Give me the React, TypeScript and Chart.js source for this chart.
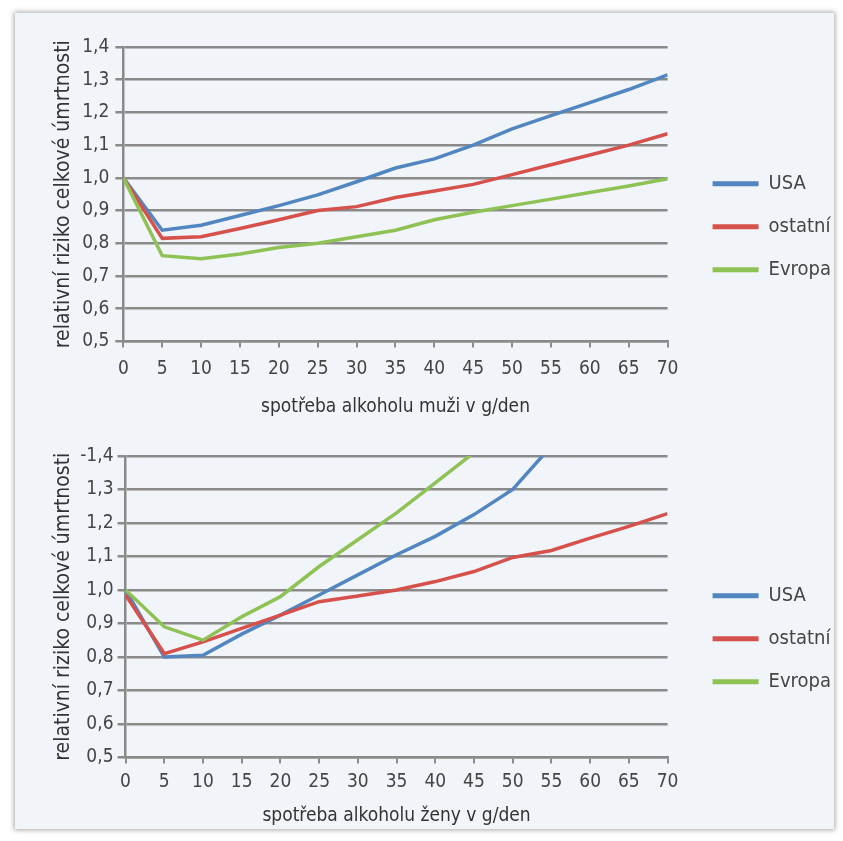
import React, { useEffect, useRef } from "react";
import { Chart, registerables } from "chart.js";

Chart.register(...registerables);

// ---- data ----
const xLabels = ["0", "5", "10", "15", "20", "25", "30", "35", "40", "45", "50", "55", "60", "65", "70"];
const yTickLabelsTop = ["0,5", "0,6", "0,7", "0,8", "0,9", "1,0", "1,1", "1,2", "1,3", "1,4"];
const yTickLabelsBottom = ["0,5", "0,6", "0,7", "0,8", "0,9", "1,0", "1,1", "1,2", "1,3", "-1,4"];

const seriesNames = ["USA", "ostatní", "Evropa"];
const seriesColors = ["#5286c0", "#d6504c", "#8ec255"];

const menUSA = [1.0, 0.84, 0.855, 0.885, 0.915, 0.948, 0.988, 1.03, 1.058, 1.1, 1.15, 1.19, 1.23, 1.27, 1.315];
const menOther = [1.0, 0.815, 0.82, 0.845, 0.872, 0.9, 0.912, 0.94, 0.96, 0.98, 1.01, 1.04, 1.07, 1.1, 1.135];
const menEurope = [1.0, 0.762, 0.753, 0.767, 0.787, 0.8, 0.82, 0.84, 0.872, 0.895, 0.915, 0.935, 0.955, 0.975, 0.997];

const womenUSA = [1.0, 0.8, 0.805, 0.868, 0.925, 0.985, 1.045, 1.105, 1.16, 1.225, 1.3, 1.43, null, null, null];
const womenOther = [0.985, 0.81, 0.845, 0.885, 0.925, 0.965, 0.982, 1.0, 1.025, 1.055, 1.097, 1.118, 1.155, 1.19, 1.228];
const womenEurope = [1.0, 0.89, 0.85, 0.92, 0.98, 1.07, 1.15, 1.23, 1.32, 1.41, null, null, null, null, null];

const yTitle = "relativní riziko celkové úmrtnosti";
const menXTitle = "spotřeba alkoholu muži v g/den";
const womenXTitle = "spotřeba alkoholu ženy v g/den";

const FONT = "'Liberation Sans Narrow', 'DejaVu Sans Condensed', 'Roboto Condensed', Roboto, sans-serif";
const GRID = "#8a8a8a";
const TEXT = "#454545";

type Layout = {
  padLeft: number;
  padTop: number;
  padRight: number;
  padBottom: number;
  yTitlePadTop: number;
  yTickPad: number;
  xTickPad: number;
  xTitlePadTop: number;
  legendShift: number;
};

function buildConfig(series: (number | null)[][], tickLabels: string[], xTitle: string, L: Layout): any {
  const datasets = series.map((values, i) => ({
    label: seriesNames[i],
    data: values,
    borderColor: seriesColors[i],
    backgroundColor: seriesColors[i],
    borderWidth: 3.5,
    pointRadius: 0,
    tension: 0,
    spanGaps: false,
    clip: 0,
    order: 3 - i,
  }));
  return {
    type: "line",
    data: { labels: xLabels, datasets },
    options: {
      animation: false,
      responsive: false,
      maintainAspectRatio: false,
      layout: { padding: { left: L.padLeft, top: L.padTop, right: L.padRight, bottom: L.padBottom } },
      plugins: {
        tooltip: { enabled: false },
        legend: {
          display: true,
          position: "right",
          fullSize: false,
          title: { display: true, text: " ", font: { size: 1 }, padding: { top: L.legendShift, bottom: 0 } },
          labels: {
            boxWidth: 46,
            boxHeight: 5,
            padding: 23,
            color: TEXT,
            font: { family: FONT, size: 20 },
            sort: (a: any, b: any) => a.datasetIndex - b.datasetIndex,
            generateLabels: (chart: any) =>
              (Chart.defaults.plugins.legend.labels as any).generateLabels(chart).map((l: any) => ({ ...l, lineWidth: 0 })),
          },
        },
      },
      scales: {
        x: {
          type: "category",
          offset: false,
          grid: { display: true, drawOnChartArea: false, drawTicks: true, tickLength: 6, color: GRID, lineWidth: 2 },
          border: { display: true, color: GRID, width: 2.5 },
          ticks: { color: TEXT, font: { family: FONT, size: 19 }, padding: L.xTickPad, maxRotation: 0, autoSkip: false },
          title: {
            display: true,
            text: xTitle,
            color: "#333",
            font: { family: FONT, size: 19 },
            padding: { top: L.xTitlePadTop, bottom: 0 },
          },
        },
        y: {
          type: "linear",
          min: 0.5,
          max: 1.4,
          grid: { color: GRID, lineWidth: 2.5, drawTicks: true, tickLength: 8 },
          border: { display: true, color: GRID, width: 2.5 },
          ticks: {
            stepSize: 0.1,
            color: TEXT,
            font: { family: FONT, size: 19 },
            padding: L.yTickPad,
            callback: (v: any) => tickLabels[Math.round(Number(v) * 10) - 5],
          },
          title: {
            display: true,
            text: yTitle,
            color: "#333",
            font: { family: FONT, size: 21 },
            padding: { top: L.yTitlePadTop, bottom: 0 },
          },
        },
        gap: {
          type: "linear",
          position: "right",
          display: false,
          min: 0,
          max: 1,
          afterFit: (s: any) => {
            s.width = 22;
          },
        },
      },
    },
  };
}

function ChartCanvas(props: {
  series: (number | null)[][];
  tickLabels: string[];
  xTitle: string;
  layout: Layout;
  top: number;
  height: number;
}) {
  const ref = useRef<HTMLCanvasElement | null>(null);
  useEffect(() => {
    if (!ref.current) return;
    const chart = new Chart(ref.current, buildConfig(props.series, props.tickLabels, props.xTitle, props.layout));
    return () => chart.destroy();
  }, []);
  return (
    <canvas
      ref={ref}
      width={843}
      height={props.height}
      style={{ position: "absolute", left: 0, top: props.top, width: 843, height: props.height }}
    />
  );
}

export default function App() {
  return (
    <div style={{ position: "absolute", left: 0, top: 0, width: 843, height: 841, background: "#ffffff", overflow: "hidden" }}>
      <div
        style={{
          position: "absolute",
          left: 15,
          top: 13,
          width: 819,
          height: 816,
          background: "#f1f4f8",
          boxShadow: "0 0 5px 1px rgba(0,0,0,0.35)",
        }}
      />
      <ChartCanvas
        series={[menUSA, menOther, menEurope]}
        tickLabels={yTickLabelsTop}
        xTitle={menXTitle}
        top={0}
        height={420}
        layout={{ padLeft: 0, padTop: 47, padRight: 2, padBottom: 2, yTitlePadTop: 51, yTickPad: 6, xTickPad: 10, xTitlePadTop: 5, legendShift: 64 }}
      />
      <ChartCanvas
        series={[womenUSA, womenOther, womenEurope]}
        tickLabels={yTickLabelsBottom}
        xTitle={womenXTitle}
        top={420}
        height={421}
        layout={{ padLeft: 0, padTop: 36, padRight: 2, padBottom: 14, yTitlePadTop: 51, yTickPad: 4, xTickPad: 7, xTitlePadTop: 4, legendShift: 63 }}
      />
    </div>
  );
}
